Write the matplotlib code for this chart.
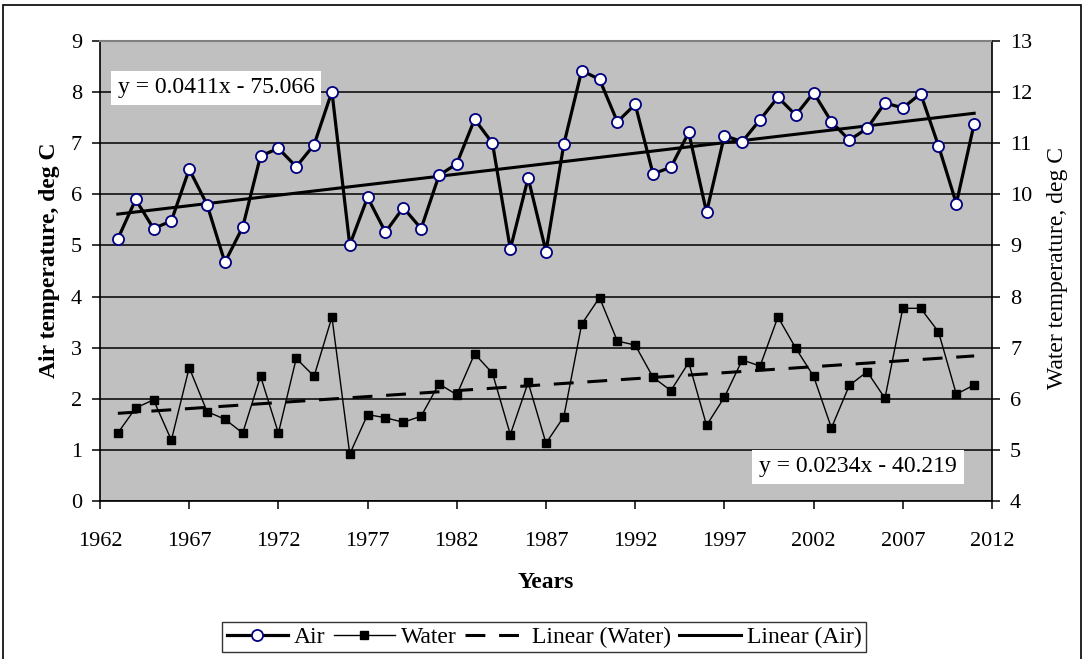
import matplotlib
matplotlib.use("Agg")
import matplotlib.pyplot as plt
import numpy as np
from matplotlib.patches import Rectangle

plt.rcParams["font.family"] = ["Liberation Serif", "DejaVu Serif"]

years = list(range(1963, 2012))

air_temp = [5.13, 5.90, 5.33, 5.48, 6.49, 5.80, 4.67, 5.36, 6.75, 6.90,
            6.54, 6.97, 8.01, 5.01, 5.94, 5.26, 5.74, 5.33, 6.37, 6.60,
            7.47, 7.00, 4.93, 6.32, 4.88, 6.98, 8.42, 8.25, 7.42, 7.76,
            6.40, 6.53, 7.21, 5.65, 7.15, 7.03, 7.46, 7.90, 7.55, 7.99,
            7.42, 7.06, 7.29, 7.79, 7.69, 7.97, 6.95, 5.82, 7.38]

water_temp = [5.33, 5.82, 5.98, 5.19, 6.61, 5.75, 5.60, 5.33, 6.44, 5.33,
              6.79, 6.44, 7.60, 4.92, 5.69, 5.63, 5.54, 5.66, 6.29, 6.08,
              6.88, 6.50, 5.30, 6.32, 5.13, 5.65, 7.46, 7.98, 7.13, 7.05,
              6.42, 6.16, 6.71, 5.48, 6.03, 6.76, 6.64, 7.60, 6.99, 6.44,
              5.43, 6.26, 6.53, 6.01, 7.77, 7.77, 7.31, 6.09, 6.27]

# Linear trend coefficients (slope, intercept)
air_trend = (0.0411, -75.066)
water_trend = (0.0234, -40.219)

x_ticks = list(range(1962, 2013, 5))
air_ticks = list(range(0, 10))
water_ticks = list(range(4, 14))

fig = plt.figure(figsize=(10.84, 6.59), dpi=100)
ax = fig.add_axes([100 / 1084, 1 - 501 / 659, 892 / 1084, 460 / 659])
ax.set_facecolor("#C0C0C0")
ax.set_xlim(1962, 2012)
ax.set_ylim(0, 9)
ax.set_xticks(x_ticks)
ax.set_yticks(air_ticks)
ax.yaxis.grid(True, color="black", linewidth=1.1)
ax.set_axisbelow(True)

for side in ("left", "bottom"):
    ax.spines[side].set_color("black")
    ax.spines[side].set_linewidth(1.2)
ax.spines["top"].set_color("#808080")
ax.spines["top"].set_linewidth(1.5)
ax.spines["right"].set_color("black")
ax.spines["right"].set_linewidth(1.2)

ax.tick_params(axis="y", direction="out", length=6, width=1.1, labelsize=16, pad=7)
ax.tick_params(axis="x", direction="out", length=6, width=1.1, labelsize=16, pad=16)

ax2 = ax.twinx()
ax2.set_ylim(4, 13)
ax2.set_yticks(water_ticks)
ax2.tick_params(axis="y", direction="out", length=6, width=1.1, labelsize=16, pad=7)
for sp in ax2.spines.values():
    sp.set_visible(False)

yrs = np.array(years, dtype=float)
trend_x = np.array([years[0], years[-1]], dtype=float)

# Air series and its trend on the left axis
air_line, = ax.plot(yrs, air_temp, color="black", linewidth=2.3, marker="o",
                    markersize=8, markerfacecolor="white",
                    markeredgecolor="#000080", markeredgewidth=1.3, zorder=4)
air_fit, = ax.plot(trend_x, air_trend[0] * trend_x + air_trend[1],
                   color="black", linewidth=2.2, zorder=3)

# Water series and its trend on the right axis
water_line, = ax2.plot(yrs, water_temp, color="black", linewidth=1.0,
                       marker="s", markersize=6, markerfacecolor="black",
                       markeredgecolor="black", zorder=4)
water_fit, = ax2.plot(trend_x, water_trend[0] * trend_x + water_trend[1],
                      color="black", linewidth=2.2, dashes=(6.5, 4.5), zorder=3)

ax.text(0.130, 0.898, "y = 0.0411x - 75.066", transform=ax.transAxes,
        ha="center", va="center", fontsize=17,
        bbox=dict(facecolor="white", edgecolor="none", pad=5), zorder=5)
ax2.text(0.850, 0.074, "y = 0.0234x - 40.219", transform=ax.transAxes,
         ha="center", va="center", fontsize=17,
         bbox=dict(facecolor="white", edgecolor="none", pad=5), zorder=5)

fig.text(50 / 1084, 1 - 260 / 659, "Air temperature, deg C", rotation=90,
         ha="center", va="center", fontsize=17, fontweight="bold")
fig.text(1057 / 1084, 1 - 268 / 659, "Water temperature, deg C", rotation=90,
         ha="center", va="center", fontsize=17)
fig.text(546 / 1084, 1 - 583 / 659, "Years", ha="center", va="center",
         fontsize=17, fontweight="bold")

handles = [air_line, water_line, water_fit, air_fit]
labels = ["Air", "Water", "Linear (Water)", "Linear (Air)"]
leg = fig.legend(handles, labels, loc="center",
                 bbox_to_anchor=(544 / 1084, 1 - 637 / 659), ncol=4,
                 fontsize=17, frameon=True, fancybox=False, edgecolor="black",
                 handlelength=2.6, handletextpad=0.25, columnspacing=0.35,
                 borderpad=0.2, borderaxespad=0)
leg.get_frame().set_linewidth(1.0)

fig.patches.append(Rectangle((3 / 1084, -0.02), 1078 / 1084, 1.02 - 5 / 659,
                             transform=fig.transFigure, fill=False,
                             edgecolor="black", linewidth=1.2))

fig.savefig("out.png", dpi=100)
